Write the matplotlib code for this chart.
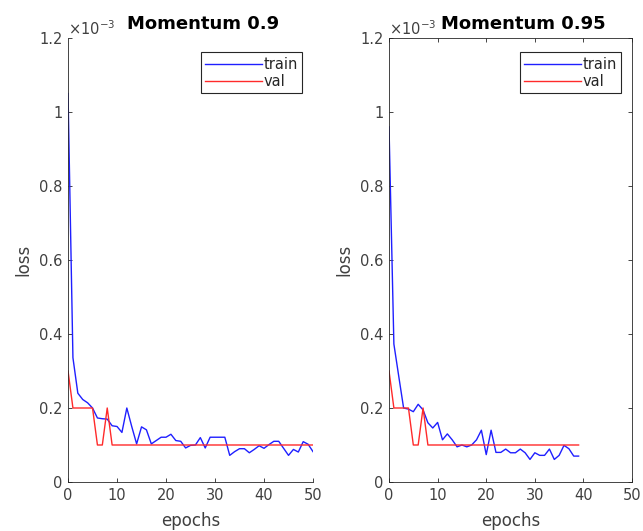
import matplotlib

matplotlib.use("Agg")
import matplotlib.pyplot as plt
from matplotlib.ticker import FuncFormatter

# loss values in units of 1e-3
train_09 = [1.05, 0.336, 0.24, 0.223, 0.214, 0.20, 0.173, 0.171, 0.17, 0.152,
            0.15, 0.134, 0.20, 0.15, 0.103, 0.149, 0.141, 0.103, 0.112, 0.121,
            0.121, 0.129, 0.112, 0.11, 0.092, 0.099, 0.10, 0.12, 0.092, 0.121,
            0.121, 0.121, 0.121, 0.072, 0.082, 0.09, 0.09, 0.079, 0.088, 0.098,
            0.091, 0.101, 0.11, 0.11, 0.091, 0.072, 0.088, 0.081, 0.109, 0.102,
            0.082]
val_09 = [0.30, 0.20, 0.20, 0.20, 0.20, 0.20, 0.10, 0.10, 0.20, 0.10] + [0.10] * 41

train_095 = [0.96, 0.373, 0.286, 0.20, 0.197, 0.19, 0.21, 0.195, 0.16, 0.146,
             0.161, 0.114, 0.13, 0.114, 0.095, 0.10, 0.095, 0.10, 0.114, 0.14,
             0.074, 0.14, 0.08, 0.08, 0.089, 0.079, 0.079, 0.089, 0.079, 0.061,
             0.079, 0.072, 0.072, 0.089, 0.061, 0.072, 0.099, 0.09, 0.07, 0.07]
val_095 = [0.30, 0.20, 0.20, 0.20, 0.20, 0.10, 0.10, 0.20, 0.10] + [0.10] * 31

titles = ["Momentum 0.9", "Momentum 0.95"]
series = [(train_09, val_09), (train_095, val_095)]
yticks = [0, 0.2, 0.4, 0.6, 0.8, 1.0, 1.2]
xticks = [0, 10, 20, 30, 40, 50]

AX = "#262626"
TXT = "#404040"
plt.rcParams.update({"font.family": "DejaVu Sans", "font.size": 10})

fig = plt.figure(figsize=(6.43, 5.31), dpi=100)
rects = [[0.1058, 0.0923, 0.381, 0.836], [0.605, 0.0923, 0.378, 0.836]]

for i, (rect, title, (tr, va)) in enumerate(zip(rects, titles, series)):
    ax = fig.add_axes(rect)
    ax.plot(range(len(tr)), tr, color="#1f1fff", lw=1.0, label="train")
    ax.plot(range(len(va)), va, color="#ff2a2a", lw=1.0, label="val")
    ax.set_xlim(0, 50)
    ax.set_ylim(0, 1.2)
    ax.set_xticks(xticks)
    ax.set_yticks(yticks)
    ax.yaxis.set_major_formatter(FuncFormatter(lambda v, p: f"{v:g}"))
    box = i == 1
    for side in ("top", "right"):
        ax.spines[side].set_visible(box)
    for s in ax.spines.values():
        s.set_color(AX)
        s.set_linewidth(0.6)
    ax.tick_params(direction="in", length=3, width=0.6, color=AX, labelcolor=TXT,
                   labelsize=10.5, top=box, right=box, pad=4)
    ax.set_xlabel("epochs", fontsize=12, color=TXT, labelpad=7)
    ax.set_ylabel("loss", fontsize=12, color=TXT, labelpad=5)
    ax.text(0.0, 1.0, r"$\times10^{-3}$", transform=ax.transAxes, fontsize=10.5,
            color=TXT, ha="left", va="bottom")
    ax.text(0.552, 1.012, title, transform=ax.transAxes, fontsize=13,
            fontweight="bold", ha="center", va="bottom", color="black")
    leg = ax.legend(loc="upper right", bbox_to_anchor=(0.955, 0.968), fancybox=False,
                    framealpha=1, edgecolor=AX, handlelength=3.9, handletextpad=0.1,
                    borderpad=0.3, labelspacing=0.15, borderaxespad=0,
                    fontsize=10.5)
    leg.get_frame().set_linewidth(0.8)
    for t in leg.get_texts():
        t.set_color(AX)

fig.savefig("out.png", dpi=100, facecolor="white")
